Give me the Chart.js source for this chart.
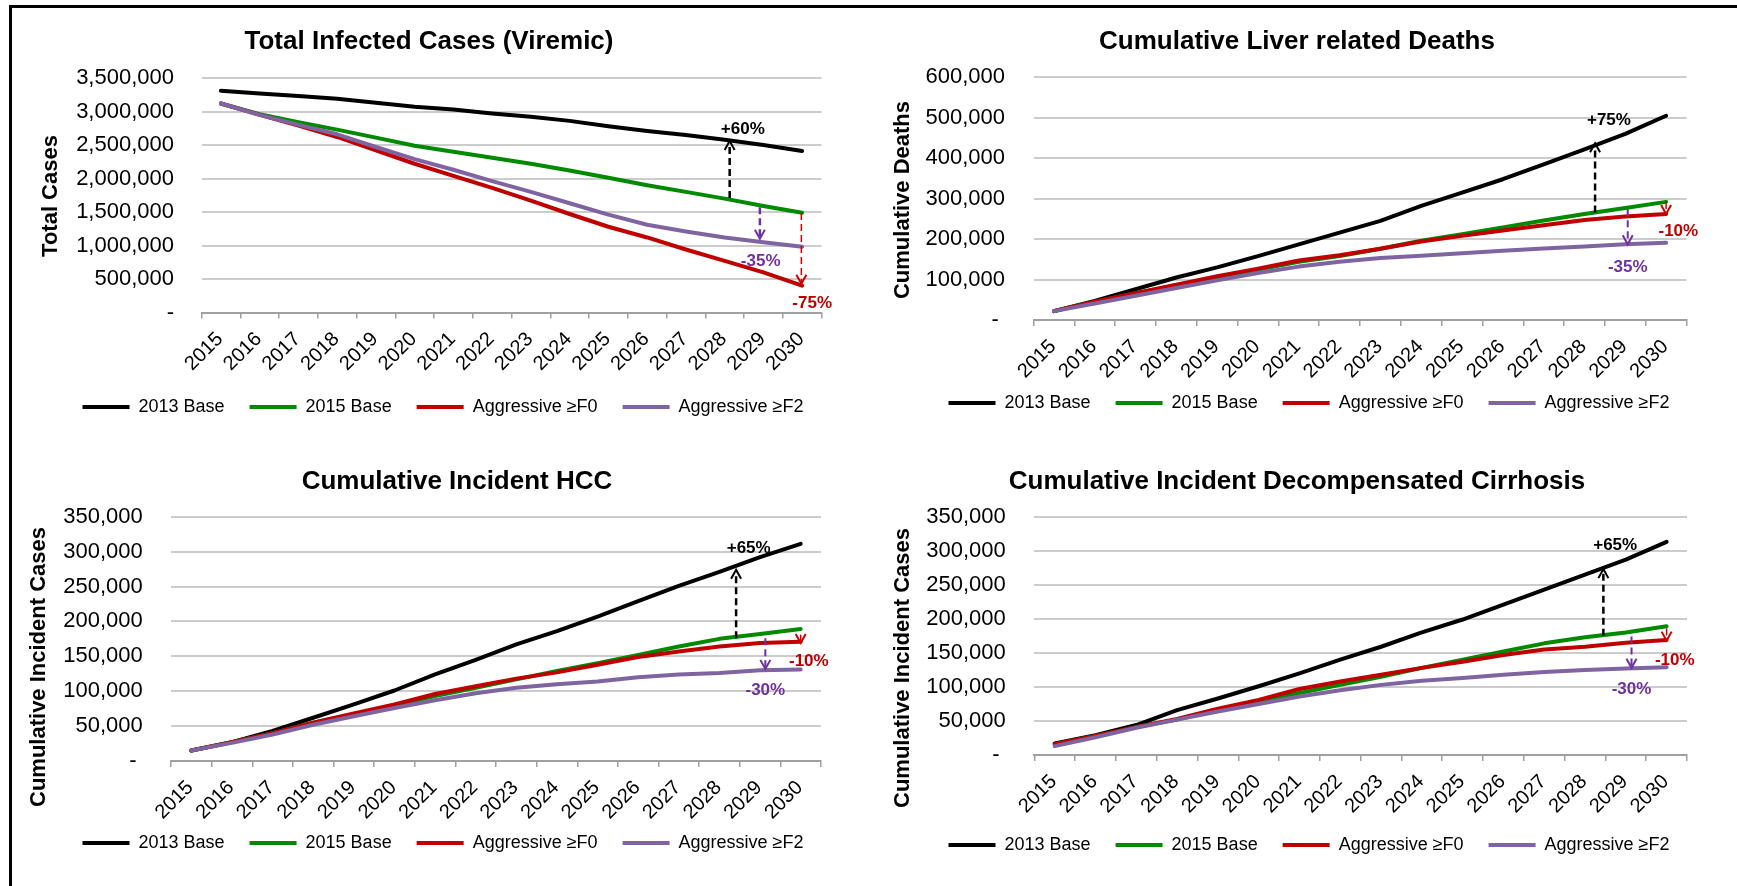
<!DOCTYPE html>
<html>
<head>
<meta charset="utf-8">
<title>HCV burden projections</title>
<script src="https://cdn.jsdelivr.net/npm/chart.js@4.4.1/dist/chart.umd.min.js"></script>
<style>
  html, body { margin: 0; background: #fff; }
  body { width: 1737px; height: 886px; position: relative; overflow: hidden; }
  .frame { position: absolute; left: 9px; top: 5px; width: 1800px; height: 1000px; border-left: 3px solid #000; border-top: 3px solid #000; }
  canvas { position: absolute; }
</style>
</head>
<body>
<div class="frame"></div>
<script>
// ---- Data ----
const years = ['2015', '2016', '2017', '2018', '2019', '2020', '2021', '2022', '2023', '2024', '2025', '2026', '2027', '2028', '2029', '2030'];
const seriesNames = ['2013 Base', '2015 Base', 'Aggressive ≥F0', 'Aggressive ≥F2'];
const seriesColors = ['#000000', '#008a00', '#c00000', '#8064a2'];

// Total infected cases (viremic)
const infectedBase2013 = [3310000, 3270000, 3230000, 3190000, 3130000, 3070000, 3030000, 2970000, 2920000, 2860000, 2780000, 2710000, 2650000, 2580000, 2500000, 2410000];
const infectedBase2015 = [3120000, 2960000, 2840000, 2730000, 2610000, 2490000, 2400000, 2310000, 2220000, 2120000, 2010000, 1900000, 1800000, 1700000, 1590000, 1490000];
const infectedAggF0 = [3120000, 2950000, 2790000, 2620000, 2420000, 2220000, 2040000, 1860000, 1670000, 1470000, 1280000, 1120000, 940000, 770000, 600000, 400000];
const infectedAggF2 = [3120000, 2950000, 2800000, 2660000, 2470000, 2290000, 2130000, 1960000, 1800000, 1630000, 1460000, 1310000, 1210000, 1120000, 1050000, 980000];
const infectedTicks = [0, 500000, 1000000, 1500000, 2000000, 2500000, 3000000, 3500000];

// Cumulative liver related deaths
const deathsBase2013 = [22000, 47000, 76000, 105000, 130000, 158000, 187000, 216000, 245000, 282000, 315000, 348000, 385000, 422000, 460000, 505000];
const deathsBase2015 = [22000, 45000, 66000, 86000, 106000, 124000, 144000, 158000, 176000, 196000, 212000, 229000, 246000, 262000, 277000, 292000];
const deathsAggF0 = [22000, 45000, 66000, 87000, 108000, 127000, 147000, 160000, 176000, 194000, 208000, 221000, 234000, 247000, 256000, 262000];
const deathsAggF2 = [22000, 41000, 60000, 79000, 98000, 116000, 132000, 144000, 153000, 159000, 165000, 171000, 177000, 182000, 187000, 191000];
const deathsTicks = [0, 100000, 200000, 300000, 400000, 500000, 600000];

// Cumulative incident HCC
const hccBase2013 = [15000, 27000, 43000, 62000, 81000, 101000, 124000, 145000, 167000, 186000, 207000, 229000, 251000, 271000, 292000, 311000];
const hccBase2015 = [15000, 27000, 40000, 55000, 67000, 79000, 93000, 105000, 117000, 129000, 140000, 152000, 164000, 175000, 182000, 189000];
const hccAggF0 = [15000, 27000, 40000, 55000, 68000, 81000, 96000, 107000, 118000, 127000, 138000, 149000, 157000, 164000, 169000, 171000];
const hccAggF2 = [15000, 26000, 38000, 52000, 64000, 76000, 87000, 97000, 105000, 110000, 114000, 120000, 124000, 126000, 130000, 131000];
const hccTicks = [0, 50000, 100000, 150000, 200000, 250000, 300000, 350000];

// Cumulative incident decompensated cirrhosis
const decompBase2013 = [17000, 29000, 44000, 66000, 83000, 101000, 120000, 140000, 159000, 180000, 199000, 221000, 243000, 265000, 287000, 313000];
const decompBase2015 = [16000, 28000, 41000, 52000, 67000, 78000, 91000, 103000, 115000, 128000, 140000, 152000, 164000, 173000, 180000, 189000];
const decompAggF0 = [16000, 28000, 41000, 53000, 68000, 81000, 97000, 108000, 118000, 128000, 137000, 147000, 155000, 159000, 165000, 169000];
const decompAggF2 = [13000, 26000, 40000, 52000, 64000, 75000, 86000, 95000, 103000, 109000, 113000, 118000, 122000, 125000, 127000, 129000];
const decompTicks = [0, 50000, 100000, 150000, 200000, 250000, 300000, 350000];

// Dashed change arrows (x = category index) and their percentage notes
const infectedArrows = [
  { x: 13.13, from: 1710000, to: 2560000, color: '#000000', width: 2.5 },
  { x: 13.91, from: 1570000, to: 1100000, color: '#7030a0', width: 2.5 },
  { x: 14.98, from: 1486000, to: 430000, color: '#d00000', width: 1.5 },
];
const infectedNotes = [
  { x: 13.47, y: 2730000, text: '+60%', color: '#000000' },
  { x: 13.93, y: 760000, text: '-35%', color: '#7030a0' },
  { x: 15.26, y: 130000, text: '-75%', color: '#c00000' },
];
const deathsArrows = [
  { x: 13.26, from: 266000, to: 437000, color: '#000000', width: 2.5 },
  { x: 14.06, from: 274000, to: 187000, color: '#7030a0', width: 2 },
  { x: 15.0, from: 292000, to: 262000, color: '#d00000', width: 1.5 },
];
const deathsNotes = [
  { x: 13.6, y: 493000, text: '+75%', color: '#000000' },
  { x: 15.3, y: 219000, text: '-10%', color: '#c00000' },
  { x: 14.06, y: 130000, text: '-35%', color: '#7030a0' },
];
const hccArrows = [
  { x: 13.41, from: 176000, to: 274000, color: '#000000', width: 2.5 },
  { x: 14.13, from: 176000, to: 132000, color: '#7030a0', width: 2 },
  { x: 15.0, from: 181000, to: 169000, color: '#d00000', width: 1.5 },
];
const hccNotes = [
  { x: 13.72, y: 305000, text: '+65%', color: '#000000' },
  { x: 15.2, y: 143000, text: '-10%', color: '#c00000' },
  { x: 14.13, y: 101000, text: '-30%', color: '#7030a0' },
];
const decompArrows = [
  { x: 13.45, from: 175000, to: 273000, color: '#000000', width: 2.5 },
  { x: 14.14, from: 174000, to: 128000, color: '#7030a0', width: 2 },
  { x: 15.0, from: 186000, to: 168000, color: '#d00000', width: 1.5 },
];
const decompNotes = [
  { x: 13.74, y: 308000, text: '+65%', color: '#000000' },
  { x: 15.2, y: 139000, text: '-10%', color: '#c00000' },
  { x: 14.14, y: 97000, text: '-30%', color: '#7030a0' },
];

Chart.defaults.font.family = '"Liberation Sans", Arial, Helvetica, sans-serif';
Chart.defaults.color = '#000';

const LEGEND_GAP = 25;   // horizontal gap between legend items (also Chart.js row padding)
const X_AXIS_H = 65;     // room for the rotated year labels (they are clipped to this box)

// Re-place the title and legend blocks after layout (legend centre row at legendY).
const shiftBoxes = {
  id: 'shiftBoxes',
  afterLayout(chart, args, opts) {
    const move = (box, cx) => {
      if (!box || cx == null) return;
      const dx = cx - (box.left + box.right) / 2;
      box.left += dx; box.right += dx;
    };
    move(chart.titleBlock, opts.titleX);
    move(chart.legend, opts.legendX);
    const lg = chart.legend;
    if (lg && opts.legendY != null) {
      const h = lg.bottom - lg.top;
      lg.top = opts.legendY - LEGEND_GAP - 9;
      lg.bottom = lg.top + h;
    }
  },
};

// Dashed arrows, % notes and the rotated y title.
const notes = {
  id: 'notes',
  afterDatasetsDraw(chart, args, opts) {
    const { ctx, scales: { x, y } } = chart;
    ctx.save();
    for (const a of opts.arrows || []) {
      const px = x.getPixelForValue(a.x);
      const y0 = y.getPixelForValue(a.from), y1 = y.getPixelForValue(a.to);
      const back = y1 < y0 ? 1 : -1;
      ctx.strokeStyle = a.color; ctx.lineWidth = a.width;
      ctx.setLineDash([7, 4]);
      ctx.beginPath(); ctx.moveTo(px, y0); ctx.lineTo(px, y1 + back * 2); ctx.stroke();
      ctx.setLineDash([]);
      ctx.lineWidth = 2;
      ctx.beginPath(); ctx.moveTo(px - 5, y1 + back * 9); ctx.lineTo(px, y1); ctx.lineTo(px + 5, y1 + back * 9); ctx.stroke();
    }
    ctx.font = 'bold 17px "Liberation Sans", Arial, sans-serif';
    ctx.textAlign = 'center'; ctx.textBaseline = 'middle';
    for (const n of opts.labels || []) {
      ctx.fillStyle = n.color;
      ctx.fillText(n.text, x.getPixelForValue(n.x), y.getPixelForValue(n.y));
    }
    ctx.restore();
  },
  afterDraw(chart, args, opts) {
    const ctx = chart.ctx;
    ctx.save();
    ctx.translate(opts.yTitleX, opts.yTitleY);
    ctx.rotate(-Math.PI / 2);
    ctx.font = 'bold 22px "Liberation Sans", Arial, sans-serif';
    ctx.fillStyle = '#000'; ctx.textAlign = 'center'; ctx.textBaseline = 'middle';
    ctx.fillText(opts.yTitle, 0, 0);
    ctx.restore();
  },
};

// Page geometry of each panel: canvas box plus where the plot area, title, legend land.
const panels = [
  { title: 'Total Infected Cases (Viremic)', yTitle: 'Total Cases', zero: '-',
    series: [infectedBase2013, infectedBase2015, infectedAggF0, infectedAggF2], ticks: infectedTicks,
    arrows: infectedArrows, notes: infectedNotes,
    box: { cx: 12, cy: 8, cw: 860, ch: 432, top: 78, bottom: 312.5, left: 201.5, right: 821.5,
           titleX: 429, titleY: 42, yTitleX: 51, yTitleY: 196, yLabelRight: 174, legendX: 443, legendY: 407 } },
  { title: 'Cumulative Liver related Deaths', yTitle: 'Cumulative Deaths', zero: '- ',
    series: [deathsBase2013, deathsBase2015, deathsAggF0, deathsAggF2], ticks: deathsTicks,
    arrows: deathsArrows, notes: deathsNotes,
    box: { cx: 872, cy: 8, cw: 860, ch: 432, top: 77.3, bottom: 320, left: 1033.5, right: 1686.5,
           titleX: 1297, titleY: 42, yTitleX: 903, yTitleY: 200, yLabelRight: 1005, legendX: 1309, legendY: 403 } },
  { title: 'Cumulative Incident HCC', yTitle: 'Cumulative Incident Cases', zero: '- ',
    series: [hccBase2013, hccBase2015, hccAggF0, hccAggF2], ticks: hccTicks,
    arrows: hccArrows, notes: hccNotes,
    box: { cx: 12, cy: 448, cw: 860, ch: 432, top: 516.7, bottom: 761, left: 171, right: 821,
           titleX: 457, titleY: 482, yTitleX: 39, yTitleY: 667, yLabelRight: 142.7, legendX: 443, legendY: 843 } },
  { title: 'Cumulative Incident Decompensated Cirrhosis', yTitle: 'Cumulative Incident Cases', zero: '- ',
    series: [decompBase2013, decompBase2015, decompAggF0, decompAggF2], ticks: decompTicks,
    arrows: decompArrows, notes: decompNotes,
    box: { cx: 872, cy: 448, cw: 860, ch: 432, top: 516.7, bottom: 755, left: 1034.3, right: 1687,
           titleX: 1297, titleY: 482, yTitleX: 903, yTitleY: 668, yLabelRight: 1005.7, legendX: 1309, legendY: 845 } },
];

function buildPanel(p) {
  const B = p.box;
  const cv = document.createElement('canvas');
  cv.width = B.cw; cv.height = B.ch;
  cv.style.left = B.cx + 'px'; cv.style.top = B.cy + 'px';
  document.body.appendChild(cv);

  const legendH = 18 + LEGEND_GAP + 10;                 // Chart.js legend box height (one row)
  const padBottom = B.cy + B.ch - B.bottom - X_AXIS_H - legendH;

  return new Chart(cv, {
    type: 'line',
    data: {
      labels: years,
      datasets: p.series.map((vals, i) => ({
        label: seriesNames[i], data: vals,
        borderColor: seriesColors[i], backgroundColor: seriesColors[i],
        borderWidth: 4, pointRadius: 0, tension: 0,
        borderCapStyle: 'round', borderJoinStyle: 'round', order: 3 - i,
      })),
    },
    options: {
      responsive: false, animation: false, devicePixelRatio: 1, events: [],
      layout: { padding: { left: 0, top: 0, right: B.cx + B.cw - B.right, bottom: padBottom } },
      scales: {
        x: {
          offset: true,
          grid: { offset: true, drawOnChartArea: false, drawTicks: true, tickLength: 6, color: '#a0a0a0', lineWidth: 1.5 },
          border: { display: true, color: '#a0a0a0', width: 2 },
          ticks: { autoSkip: false, minRotation: 45, maxRotation: 45, padding: 9, labelOffset: -1, font: { size: 20 }, color: '#000' },
          afterFit: (s) => { s.height = X_AXIS_H; },
        },
        y: {
          min: p.ticks[0], max: p.ticks[p.ticks.length - 1],
          grid: { drawTicks: false, color: '#cccccc', lineWidth: 2 },
          border: { display: false },
          ticks: { stepSize: p.ticks[1] - p.ticks[0], padding: B.left - B.yLabelRight, font: { size: 22 }, color: '#000',
                   callback: (v) => (v === 0 ? p.zero : v.toLocaleString('en-US')) },
          afterFit: (s) => { s.width = B.left - B.cx; },
        },
      },
      plugins: {
        title: { display: true, text: p.title, color: '#000', font: { size: 26, weight: 'bold' },
                 padding: { top: B.titleY - B.cy - 15.6, bottom: B.top - B.titleY - 15.6 } },
        legend: { position: 'bottom',
                  labels: { usePointStyle: true, pointStyle: 'line', pointStyleWidth: 47, padding: LEGEND_GAP,
                            font: { size: 18 }, color: '#000', sort: (a, b) => a.datasetIndex - b.datasetIndex } },
        tooltip: { enabled: false },
        shiftBoxes: { titleX: B.titleX - B.cx, legendX: B.legendX - B.cx, legendY: B.legendY - B.cy },
        notes: { arrows: p.arrows, labels: p.notes, yTitle: p.yTitle, yTitleX: B.yTitleX - B.cx, yTitleY: B.yTitleY - B.cy },
      },
    },
    plugins: [shiftBoxes, notes],
  });
}

panels.forEach(buildPanel);
</script>
</body>
</html>
